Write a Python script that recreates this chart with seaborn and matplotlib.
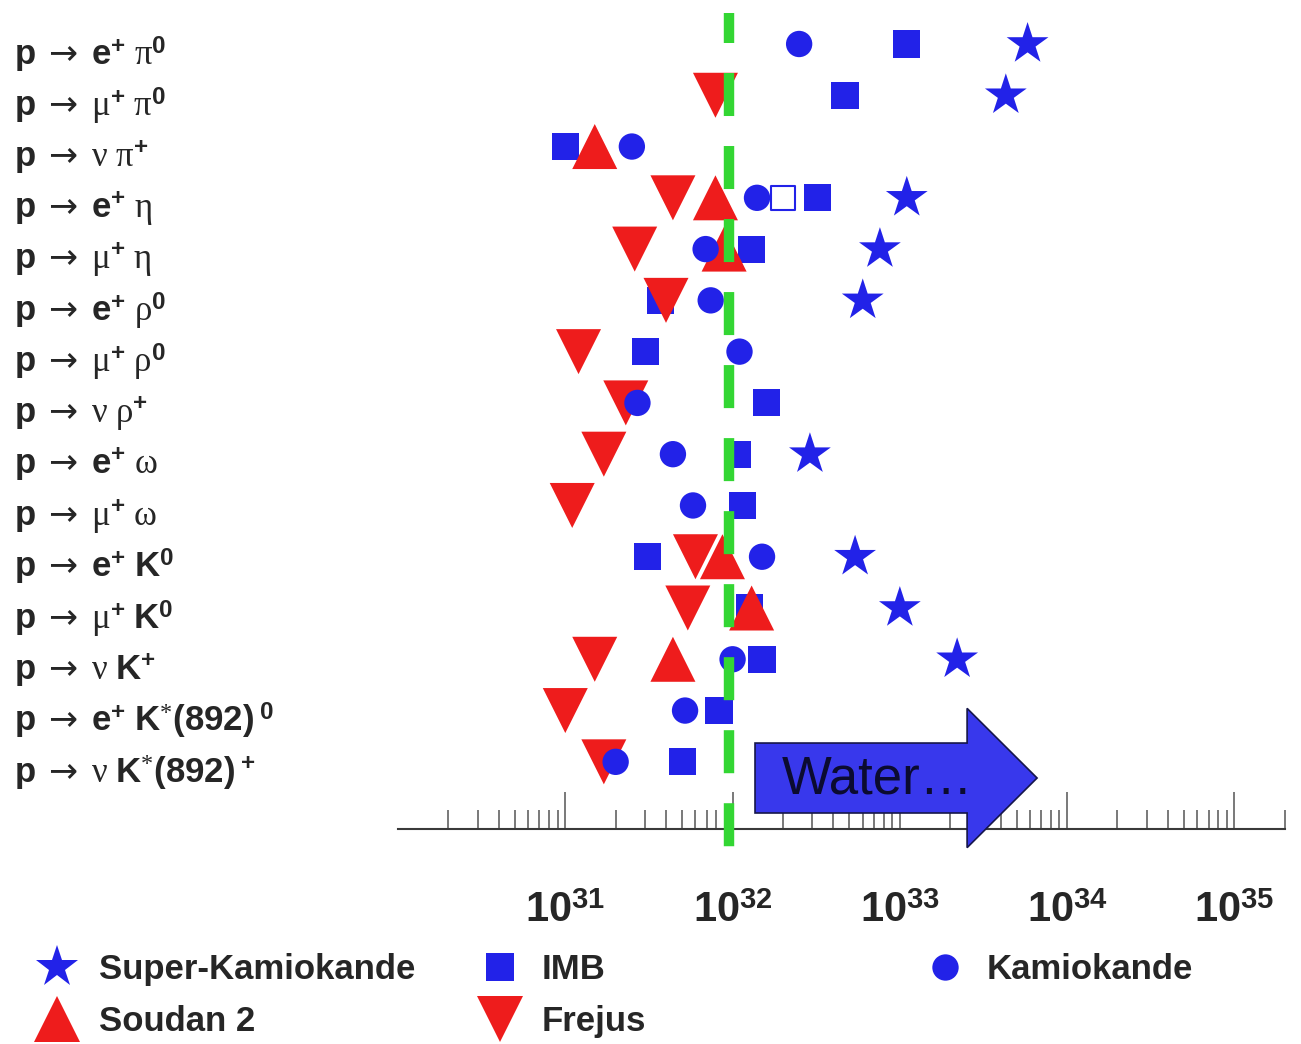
import numpy as np
import pandas as pd
import matplotlib
matplotlib.use("Agg")
import matplotlib.pyplot as plt
import matplotlib.transforms as mtransforms
import seaborn as sns
from matplotlib.lines import Line2D
from matplotlib.patches import FancyArrow
from matplotlib.ticker import FixedLocator, LogLocator, NullFormatter

# decay modes, top to bottom
ARR = r"\ \mathsf{\rightarrow}\ "
modes = [
    r"$\mathbf{p}" + ARR + r"\mathbf{e}^{\mathbf{+}}\ \mathrm{\pi}^{\mathbf{0}}$",
    r"$\mathbf{p}" + ARR + r"\mathrm{\mu}^{\mathbf{+}}\ \mathrm{\pi}^{\mathbf{0}}$",
    r"$\mathbf{p}" + ARR + r"\mathrm{\nu}\ \mathrm{\pi}^{\mathbf{+}}$",
    r"$\mathbf{p}" + ARR + r"\mathbf{e}^{\mathbf{+}}\ \mathrm{\eta}$",
    r"$\mathbf{p}" + ARR + r"\mathrm{\mu}^{\mathbf{+}}\ \mathrm{\eta}$",
    r"$\mathbf{p}" + ARR + r"\mathbf{e}^{\mathbf{+}}\ \mathrm{\rho}^{\mathbf{0}}$",
    r"$\mathbf{p}" + ARR + r"\mathrm{\mu}^{\mathbf{+}}\ \mathrm{\rho}^{\mathbf{0}}$",
    r"$\mathbf{p}" + ARR + r"\mathrm{\nu}\ \mathrm{\rho}^{\mathbf{+}}$",
    r"$\mathbf{p}" + ARR + r"\mathbf{e}^{\mathbf{+}}\ \mathrm{\omega}$",
    r"$\mathbf{p}" + ARR + r"\mathrm{\mu}^{\mathbf{+}}\ \mathrm{\omega}$",
    r"$\mathbf{p}" + ARR + r"\mathbf{e}^{\mathbf{+}}\ \mathbf{K}^{\mathbf{0}}$",
    r"$\mathbf{p}" + ARR + r"\mathrm{\mu}^{\mathbf{+}}\ \mathbf{K}^{\mathbf{0}}$",
    r"$\mathbf{p}" + ARR + r"\mathrm{\nu}\ \mathbf{K}^{\mathbf{+}}$",
    r"$\mathbf{p}" + ARR + r"\mathbf{e}^{\mathbf{+}}\ \mathbf{K}^{*}\mathbf{(892)}^{\ \mathbf{0}}$",
    r"$\mathbf{p}" + ARR + r"\mathrm{\nu}\ \mathbf{K}^{*}\mathbf{(892)}^{\ \mathbf{+}}$",
]

# lifetime limits (years), one entry per mode, None = no result
super_k    = [5.8e33, 4.3e33, None, 1.1e33, 7.6e32, 6.0e32, None, None,
              2.9e32, None, 5.4e32, 1.0e33, 2.2e33, None, None]
imb        = [1.1e33, 4.7e32, 1.0e31, 3.2e32, 1.3e32, 3.7e31, 3.0e31, 1.6e32,
              1.07e32, 1.15e32, 3.1e31, 1.26e32, 1.5e32, 8.3e31, 5.0e31]
kamiokande = [2.5e32, None, 2.5e31, 1.4e32, 6.9e31, 7.4e31, 1.1e32, 2.7e31,
              4.4e31, 5.8e31, 1.5e32, None, 1.0e32, 5.2e31, 2.0e31]
soudan2    = [None, None, 1.5e31, 7.9e31, 8.9e31, None, None, None,
              None, None, 8.7e31, 1.3e32, 4.4e31, None, None]
frejus     = [None, 7.9e31, None, 4.4e31, 2.6e31, 4.0e31, 1.2e31, 2.3e31,
              1.7e31, 1.1e31, 6.0e31, 5.4e31, 1.5e31, 1.0e31, 1.7e31]
imb_open   = [None, None, None, 2.0e32, None, None, None, None,
              None, None, None, None, None, None, None]

water_limit = 9.5e31
tick_values = [1e31, 1e32, 1e33, 1e34, 1e35]
tick_labels = [r"$\mathbf{10}^{\mathbf{31}}$", r"$\mathbf{10}^{\mathbf{32}}$",
               r"$\mathbf{10}^{\mathbf{33}}$", r"$\mathbf{10}^{\mathbf{34}}$",
               r"$\mathbf{10}^{\mathbf{35}}$"]

BLUE = "#2222e8"
RED = "#ee1c1c"
GREEN = "#33d633"

series = {"IMB": imb, "Frejus": frejus, "Soudan 2": soudan2,
          "Kamiokande": kamiokande, "Super-Kamiokande": super_k}
colors = {"IMB": BLUE, "Frejus": RED, "Soudan 2": RED,
          "Kamiokande": BLUE, "Super-Kamiokande": BLUE}
markers = {"IMB": "s", "Frejus": "v", "Soudan 2": "^",
           "Kamiokande": "o", "Super-Kamiokande": "*"}
sizes = {"IMB": 380, "Frejus": 1050, "Soudan 2": 1050,
         "Kamiokande": 360, "Super-Kamiokande": 1000}

rows = []
for name, vals in series.items():
    for i, v in enumerate(vals):
        if v is not None:
            rows.append({"experiment": name, "mode": i, "lifetime": v})
df = pd.DataFrame(rows)

open_x = [v for v in imb_open if v is not None]
open_y = [i for i, v in enumerate(imb_open) if v is not None]

sns.set_style("white")
plt.rcParams["font.family"] = ["Liberation Sans", "DejaVu Sans"]
plt.rcParams["mathtext.fontset"] = "custom"
plt.rcParams["mathtext.rm"] = "Liberation Serif"
plt.rcParams["mathtext.it"] = "Liberation Serif:italic"
plt.rcParams["mathtext.bf"] = "Liberation Sans:bold"
plt.rcParams["mathtext.sf"] = "DejaVu Sans"

fig = plt.figure(figsize=(13.01, 10.44), dpi=100)
ax = fig.add_axes([398 / 1301, 1 - 829 / 1044, 887 / 1301, 829 / 1044])
ax.set_xscale("log")

sns.scatterplot(data=df, x="lifetime", y="mode", hue="experiment",
                style="experiment", size="experiment", palette=colors,
                markers=markers, sizes=sizes, linewidth=0, legend=False,
                ax=ax, zorder=3)
sns.scatterplot(x=open_x, y=open_y, marker="s", s=300, color="white",
                edgecolor=BLUE, linewidth=1.5, ax=ax, zorder=3)

# green dashed reference line, runs past the axis line
ax.plot([water_limit, water_limit], [0.984, -0.025],
        transform=ax.get_xaxis_transform(), color=GREEN, lw=7.5,
        linestyle=(1.25, (4.13, 2.88)), clip_on=False, zorder=4)

# "Water..." arrow
ax.add_patch(FancyArrow(0.4025, 0.0615, 0.318, 0, width=0.0844,
                        head_width=0.168, head_length=0.0789,
                        length_includes_head=True, transform=ax.transAxes,
                        fc="#3838ec", ec="#16164a", lw=1.2, clip_on=False,
                        zorder=5))
ax.text(0.433, 0.0434, "Water\u2026", transform=ax.transAxes, fontsize=38,
        color="#0b0b30", ha="left", va="baseline", zorder=6)

ax.set_xlim(1e30, 2.006e35)
ax.set_ylim(15.31, -0.858)
ax.xaxis.set_major_locator(FixedLocator(tick_values))
ax.set_xticklabels(tick_labels)
ax.xaxis.set_minor_locator(LogLocator(base=10, subs=np.arange(2, 10), numticks=30))
ax.xaxis.set_minor_formatter(NullFormatter())
ax.tick_params(axis="x", which="both", bottom=True, direction="in",
               color="#555555", width=1.1)
ax.tick_params(axis="x", which="major", length=26.6, pad=45, labelsize=30)
ax.tick_params(axis="x", which="minor", length=13.7)

ax.set_yticks(range(len(modes)))
ax.set_yticklabels(modes)
ax.tick_params(axis="y", length=0, pad=276.5, labelsize=25)
shift = mtransforms.ScaledTranslation(0, -6 / 100, fig.dpi_scale_trans)
for lab in ax.get_yticklabels():
    lab.set_ha("left")
    lab.set_transform(lab.get_transform() + shift)

ax.set_xlabel("")
ax.set_ylabel("")
sns.despine(ax=ax, left=True)
ax.spines["bottom"].set_color("#3a3a3a")
ax.spines["bottom"].set_linewidth(1.5)


def handle(name):
    return Line2D([], [], linestyle="none", marker=markers[name],
                  color=colors[name], markersize=np.sqrt(sizes[name]),
                  markeredgewidth=0)


legend_cols = [["Super-Kamiokande", "Soudan 2"], ["IMB", "Frejus"], ["Kamiokande"]]
legend_x = [40, 483, 928]
for names, x in zip(legend_cols, legend_x):
    fig.legend([handle(n) for n in names], names, loc="upper left",
               bbox_to_anchor=(x / 1301, 1 - 953 / 1044), frameon=False,
               borderpad=0, borderaxespad=0, handlelength=1.0,
               handletextpad=0.7, labelspacing=0.55,
               prop={"weight": "bold", "size": 25})

fig.savefig("out.png", dpi=100)
